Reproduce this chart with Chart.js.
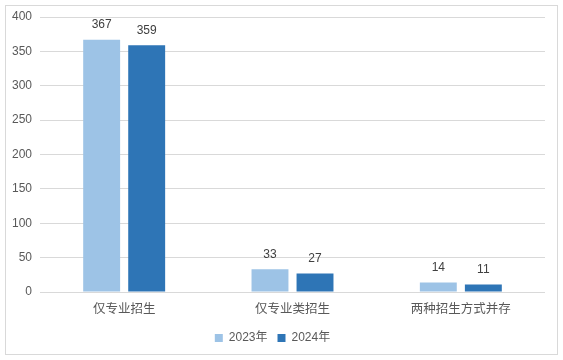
<!DOCTYPE html>
<html><head><meta charset="utf-8">
<script src="https://cdn.jsdelivr.net/npm/chart.js@4/dist/chart.umd.min.js"></script>
<style>html,body{margin:0;padding:0;background:#fff}#wrap{width:563px;height:360px;position:relative}</style>
</head><body><div id="wrap"><canvas id="c" width="563" height="360"></canvas></div>
<script>
const categories = ["仅专业招生", "仅专业类招生", "两种招生方式并存"];
const series2023 = [367, 33, 14];
const series2024 = [359, 27, 11];
const seriesNames = ["2023年", "2024年"];
const yTicks = [0, 50, 100, 150, 200, 250, 300, 350, 400];

const FONT = "'Liberation Sans', 'Noto Sans CJK SC', sans-serif";
const frame = {
  id: 'frame',
  beforeDraw(chart) {
    const ctx = chart.ctx;
    ctx.save();
    ctx.fillStyle = '#fff';
    ctx.fillRect(0, 0, chart.width, chart.height);
    ctx.strokeStyle = '#d9d9d9';
    ctx.lineWidth = 1;
    ctx.strokeRect(5.5, 5.5, 552, 349);
    ctx.restore();
  }
};
const labels = {
  id: 'vlabels',
  afterDatasetsDraw(chart) {
    const ctx = chart.ctx;
    ctx.save();
    ctx.font = '12px ' + FONT;
    ctx.fillStyle = '#404040';
    ctx.textAlign = 'center';
    ctx.textBaseline = 'middle';
    chart.data.datasets.forEach((ds, i) => {
      chart.getDatasetMeta(i).data.forEach((bar, j) => {
        ctx.fillText(String(ds.data[j]), bar.x, bar.y - 15);
      });
    });
    ctx.restore();
  }
};

new Chart(document.getElementById('c'), {
  type: 'bar',
  data: {
    labels: categories,
    datasets: [
      { label: seriesNames[0], data: series2023, backgroundColor: '#9DC3E6', barPercentage: 0.82, categoryPercentage: 0.535 },
      { label: seriesNames[1], data: series2024, backgroundColor: '#2E75B6', barPercentage: 0.82, categoryPercentage: 0.535 }
    ]
  },
  options: {
    responsive: false,
    animation: false,
    devicePixelRatio: 1,
    layout: { padding: { left: 0, right: 18, top: 17, bottom: 6 } },
    plugins: {
      legend: {
        position: 'bottom',
        labels: { boxWidth: 8, boxHeight: 8, color: '#595959', font: { size: 12, family: FONT }, padding: 10 }
      },
      tooltip: { enabled: false }
    },
    scales: {
      x: {
        grid: { display: false },
        border: { display: false },
        ticks: { color: '#595959', font: { size: 12.5, family: FONT }, padding: 2 },
        afterFit(s) { s.height = 30; }
      },
      y: {
        min: 0, max: 400,
        afterBuildTicks(s) { s.ticks = yTicks.map(v => ({ value: v })); },
        grid: { color: '#d9d9d9', drawTicks: false },
        border: { display: false },
        ticks: { color: '#595959', font: { size: 12, family: FONT }, padding: 8 },
        afterFit(s) { s.width = 40; }
      }
    }
  },
  plugins: [frame, labels]
});
</script></body></html>
